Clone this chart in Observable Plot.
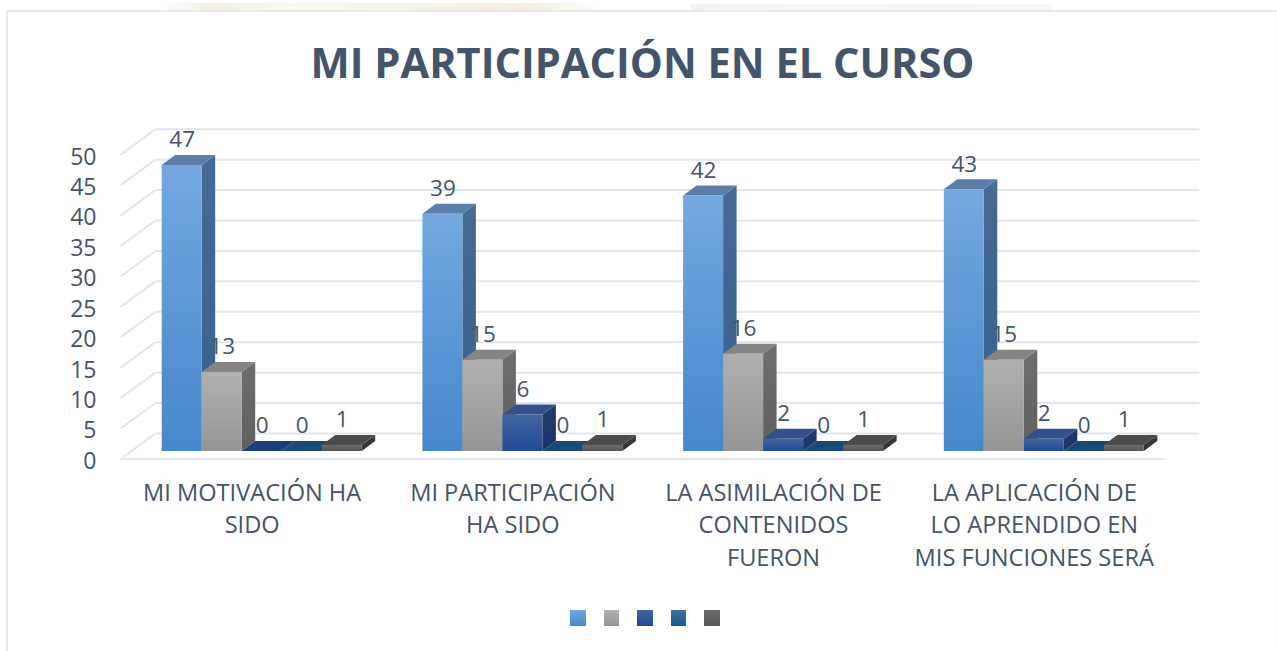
<!DOCTYPE html>
<html lang="es">
<head>
<meta charset="utf-8">
<script src="https://cdn.jsdelivr.net/npm/d3@7"></script>
<script src="https://cdn.jsdelivr.net/npm/@observablehq/plot@0.6"></script>
<style>
html,body{margin:0;padding:0;background:#fff;width:1277px;height:651px;overflow:hidden;font-family:"Open Sans",sans-serif}
#smudge{position:absolute;left:158px;top:3px;width:443px;height:8px;background:linear-gradient(90deg,#fff 0%,#f5eedd 12%,#fbf8f0 30%,#f8f2e4 55%,#f5eedd 85%,#fff 100%)}
#smudge2{position:absolute;left:691px;top:4px;width:360px;height:7px;background:linear-gradient(90deg,#f3f1ea,#f8f7f3,#f6f5f0,#f8f7f3)}
#card{position:absolute;left:6px;top:10px;width:1271px;height:700px;border:2px solid #e3e9ef;border-right:1px solid #f4f6f8;box-sizing:border-box;background:#fff}
#title{position:absolute;left:0;top:39px;width:1285px;text-align:center;margin:0;font:700 41.6px/46px "Open Sans",sans-serif;color:#44546a;white-space:nowrap}
#chart{position:absolute;left:0;top:100px}
#chart svg{display:block}
#legend{position:absolute;left:570px;top:610px;display:flex;gap:18px}
#legend span{display:block;width:15.5px;height:16px}
</style>
</head>
<body>
<div id="smudge"></div>
<div id="smudge2"></div>
<div id="card"></div>
<h1 id="title">MI PARTICIPACIÓN EN EL CURSO</h1>
<div id="chart"></div>
<div id="legend"></div>
<script>
const categories = [
  "MI MOTIVACIÓN HA\nSIDO",
  "MI PARTICIPACIÓN\nHA SIDO",
  "LA ASIMILACIÓN DE\nCONTENIDOS\nFUERON",
  "LA APLICACIÓN DE\nLO APRENDIDO EN\nMIS FUNCIONES SERÁ"
];
const series1 = [47, 39, 42, 43];
const series2 = [13, 15, 16, 15];
const series3 = [0, 6, 2, 2];
const series4 = [0, 0, 0, 0];
const series5 = [1, 1, 1, 1];
const allSeries = [series1, series2, series3, series4, series5];
const yTicks = [0, 5, 10, 15, 20, 25, 30, 35, 40, 45, 50];

const frontTop = ["#74a8df", "#b0b0b0", "#44659f", "#406f9f", "#6c6c6c"];
const frontBottom = ["#4687cc", "#959595", "#1e4a95", "#155a90", "#555555"];
const topFace = ["#5a7ea8", "#858585", "#33508a", "#174a78", "#4c4c4c"];
const flatTopFace = ["#5a7ea8", "#858585", "#1d3f7d", "#174a78", "#4c4c4c"];
const sideTop = ["#476a92", "#6e6e6e", "#22396f", "#143a66", "#3c3c3c"];
const sideBottom = ["#34618f", "#5f5f5f", "#1a3566", "#133f6b", "#303030"];

const inkColor = "#44546a";
const gridColor = "#e1e5ec";

// one unit of x is one category; faces are offset in data units
const pxPerGroup = 260.7, pxPerValue = 6.085;
const barW = 40 / pxPerGroup;
const depthX = 13.5 / pxPerGroup, depthY = 10 / pxPerValue;
const floorX = -41.7 / pxPerGroup, floorDrop = -1.23;
const backX = floorX + 35 / pxPerGroup, backRise = 2.96;
const frontEnd = 3 + (1164 - 943.5) / pxPerGroup, backEnd = frontEnd + 34.5 / pxPerGroup;

const fronts = [], sides = [], tops = [], labels = [];
allSeries.forEach((vals, s) => vals.forEach((v, g) => {
  const x1 = g + s * barW, x2 = x1 + barW, id = `${g}-${s}`;
  fronts.push({s, g, x1, x2, v});
  sides.push(
    {s, id, x: x2, y1: 0, y2: v},
    {s, id, x: x2 + depthX, y1: depthY, y2: v + depthY});
  tops.push(
    {s, id, v, x: x1, y1: v, y2: v},
    {s, id, v, x: x1 + depthX, y1: v, y2: v + depthY},
    {s, id, v, x: x2, y1: v, y2: v + depthY},
    {s, id, v, x: x2 + depthX, y1: v + depthY, y2: v + depthY});
  labels.push({x: (x1 + x2) / 2, v});
}));

function defs() {
  const d = document.createElementNS("http://www.w3.org/2000/svg", "defs");
  const grad = (id, a, b) => `<linearGradient id="${id}" x1="0" y1="0" x2="0" y2="1"><stop offset="0" stop-color="${a}"/><stop offset="1" stop-color="${b}"/></linearGradient>`;
  d.innerHTML = frontTop.map((c, i) => grad(`front${i}`, c, frontBottom[i])).join("")
    + sideTop.map((c, i) => grad(`side${i}`, c, sideBottom[i])).join("");
  return d;
}

const font = '"Open Sans", sans-serif';
const marks = [
  defs,
  Plot.link(yTicks, {x1: () => backX, x2: () => backEnd, y1: v => v + backRise, y2: v => v + backRise, stroke: gridColor, strokeWidth: 2}),
  Plot.link(yTicks, {x1: () => floorX, x2: () => backX, y1: v => v + floorDrop, y2: v => v + backRise, stroke: gridColor, strokeWidth: 2}),
  Plot.link([0], {x1: () => floorX, x2: () => frontEnd, y1: () => floorDrop, y2: () => floorDrop, stroke: gridColor, strokeWidth: 2})
];
// bars are painted left to right, so each front covers the side of the previous bar
[0, 1, 2, 3].forEach(g => [0, 1, 2, 3, 4].forEach(s => {
  const id = `${g}-${s}`;
  const flat = allSeries[s][g] === 0;
  marks.push(
    Plot.area(sides.filter(d => d.id === id), {x1: "x", y1: "y1", y2: "y2", fill: `url(#side${s})`, curve: "linear"}),
    Plot.area(tops.filter(d => d.id === id), {x1: "x", y1: "y1", y2: "y2", fill: flat ? flatTopFace[s] : topFace[s], curve: "linear"}),
    Plot.rect(fronts.filter(d => d.g === g && d.s === s), {x1: "x1", x2: "x2", y1: () => 0, y2: "v", fill: `url(#front${s})`})
  );
}));
marks.push(
  Plot.text(labels, {x: "x", y: "v", text: d => String(d.v), dy: -25.5, fill: inkColor, fontSize: 22.5, fontFamily: font}),
  Plot.text(yTicks, {x: () => floorX, y: v => v + floorDrop, text: v => String(v), textAnchor: "end", dx: -24, dy: 2.5, fill: inkColor, fontSize: 23, fontFamily: font}),
  Plot.text(categories, {x: (d, i) => i + 0.345, y: () => -6.9, text: d => d, lineAnchor: "top", dy: -16, fill: inkColor, fontSize: 23.6, lineHeight: 1.377, fontFamily: font})
);

// pixel-faithful scales: category 0 starts at 161.7, value 0 sits 351px below the SVG top
const chart = Plot.plot({
  width: 1277, height: 490,
  marginTop: 0, marginRight: 0, marginBottom: 0, marginLeft: 0,
  x: {domain: [-161.7 / pxPerGroup, (1277 - 161.7) / pxPerGroup], range: [0, 1277], axis: null},
  y: {domain: [0, 50], range: [351, 351 - 50 * pxPerValue], axis: null},
  style: {background: "transparent", fontFamily: font, overflow: "visible"},
  marks
});
document.getElementById("chart").append(chart);

const legend = document.getElementById("legend");
frontTop.forEach((c, i) => {
  const sw = document.createElement("span");
  sw.style.background = `linear-gradient(${c},${frontBottom[i]})`;
  legend.append(sw);
});
</script>
</body>
</html>
